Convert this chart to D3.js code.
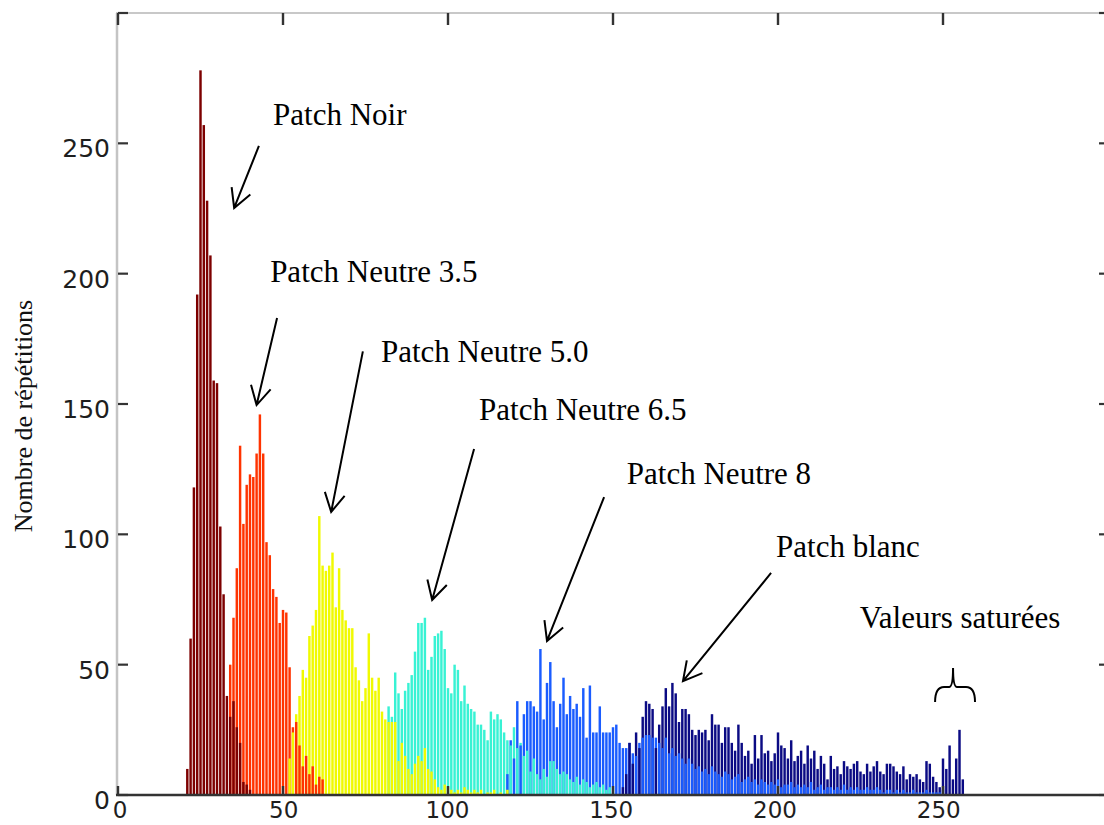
<!DOCTYPE html>
<html>
<head>
<meta charset="utf-8">
<script src="https://cdn.jsdelivr.net/npm/d3@7/dist/d3.min.js"></script>
<style>
  html, body { margin: 0; padding: 0; background: #fff; }
  svg { display: block; }
</style>
</head>
<body>
<svg id="chart" width="1104" height="825"></svg>
<script>
// ---------------- DATA ----------------
// Each series: first grey level (bin) and the counts of consecutive bins.
const seriesNames = ["Patch Noir", "Patch Neutre 3.5", "Patch Neutre 5.0", "Patch Neutre 6.5", "Patch Neutre 8", "Patch blanc"];

const noirStart = 21;
const noirCounts = [10, 60, 118, 192, 278, 257, 228, 207, 159, 158, 103, 77, 38, 30, 36, 26, 20, 5, 4, 2];

const n35Start = 34;
const n35Counts = [50, 68, 87, 134, 104, 119, 123, 122, 131, 146, 131, 97, 92, 79, 76, 66, 71, 70, 49, 26,
                   28, 19, 11, 15, 8, 11, 4, 7, 6];

const n50Start = 52;
const n50Counts = [14, 24, 31, 38, 48, 45, 61, 65, 71, 107, 88, 86, 88, 93, 72, 87, 71, 67, 64, 64,
                   49, 44, 36, 41, 62, 45, 40, 45, 32, 29, 28, 28, 28, 13, 20, 15, 10, 8, 12, 15,
                   13, 18, 10, 9, 6, 3, 2, 4, 3, 2, 1, 2, 1, 3, 2, 1, 2, 1, 2, 0,
                   1, 1, 2, 0, 1, 0, 2];

const n65Start = 82;
const n65Counts = [34, 30, 47, 39, 33, 40, 43, 46, 55, 66, 66, 68, 48, 53, 61, 62, 63, 56, 41, 39,
                   50, 48, 36, 42, 35, 33, 32, 27, 27, 25, 21, 32, 29, 31, 29, 24, 21, 19, 26, 18,
                   20, 15, 17, 9, 14, 8, 6, 10, 7, 13, 13, 10, 8, 9, 8, 6, 5, 7, 4, 6,
                   5, 3, 4, 5, 3, 4, 2, 3, 1];

const n8Start = 118;
const n8Counts = [8, 21, 14, 36, 19, 31, 36, 36, 34, 32, 56, 29, 43, 51, 36, 26, 35, 45, 31, 38,
                  33, 35, 30, 41, 22, 42, 24, 24, 34, 24, 24, 24, 26, 27, 20, 18, 18, 20, 16, 15,
                  20, 22, 23, 23, 22, 22, 20, 18, 22, 16, 18, 15, 16, 14, 12, 14, 12, 10, 11, 9,
                  10, 8, 11, 9, 8, 7, 9, 8, 6, 7, 8, 5, 6, 7, 5, 6, 4, 6, 5, 4,
                  5, 4, 6, 3, 4, 4, 5, 3, 4, 3, 4, 3, 5, 2, 3, 4, 2, 3, 3, 2,
                  3, 2, 4, 2, 3, 2, 3, 2, 2, 3, 2, 2, 3, 2, 1, 2, 2, 1, 2, 1,
                  2, 1, 1, 2, 1, 1, 1, 2, 1, 1, 1, 1, 2];

const blancStart = 153;
const blancCounts = [3, 8, 20, 12, 24, 18, 30, 36, 35, 33, 18, 27, 34, 41, 34, 43, 39, 28, 33, 33,
                     31, 25, 23, 25, 24, 25, 21, 31, 27, 27, 20, 26, 26, 20, 17, 27, 20, 15, 17, 12,
                     23, 14, 23, 16, 17, 13, 16, 24, 19, 18, 14, 21, 13, 15, 17, 12, 19, 14, 17, 10,
                     15, 12, 6, 15, 10, 11, 8, 13, 11, 10, 12, 13, 9, 8, 12, 9, 11, 13, 9, 8,
                     12, 12, 11, 9, 8, 11, 6, 8, 7, 8, 6, 5, 13, 12, 7, 5, 3, 14, 10, 19,
                     6, 14, 25, 6];

const xTicks = [0, 50, 100, 150, 200, 250, 300];
const yTicks = [0, 50, 100, 150, 200, 250, 300];
const xTickLabels = ["0", "50", "100", "150", "200", "250"];
const yTickLabels = ["0", "50", "100", "150", "200", "250"];

// annotations in data units: label, text anchor point, arrow from, arrow to
const annotations = [
  { text: "Patch Noir",       tx: 47.0,  ty: 257.0, ax1: 42.7,  ay1: 249.0, ax2: 35.2,  ay2: 225.2 },
  { text: "Patch Neutre 3.5", tx: 46.1,  ty: 196.8, ax1: 48.2,  ay1: 183.0, ax2: 42.0,  ay2: 149.6 },
  { text: "Patch Neutre 5.0", tx: 79.7,  ty: 166.1, ax1: 74.2,  ay1: 170.2, ax2: 64.6,  ay2: 108.6 },
  { text: "Patch Neutre 6.5", tx: 109.4, ty: 143.8, ax1: 107.9, ay1: 132.7, ax2: 95.2,  ay2: 74.8 },
  { text: "Patch Neutre 8",   tx: 154.2, ty: 119.3, ax1: 147.3, ay1: 114.3, ax2: 130.0, ay2: 59.1 },
  { text: "Patch blanc",      tx: 199.4, ty: 91.3,  ax1: 197.9, ay1: 85.2,  ax2: 171.2, ay2: 43.7 }
];
const saturatedLabel = { text: "Valeurs saturées", tx: 224.8, ty: 64.1 };
const saturatedRange = [247.6, 259.7];

// ---------------- CHART ----------------
const colors = ["#7d0000", "#ff3300", "#f0fa00", "#38f2d4", "#1a5cff", "#0b0b84"];
const starts = [noirStart, n35Start, n50Start, n65Start, n8Start, blancStart];
const counts = [noirCounts, n35Counts, n50Counts, n65Counts, n8Counts, blancCounts];

const svg = d3.select("#chart");
const x = d3.scaleLinear().domain([0, 300]).range([118, 1108]);
const y = d3.scaleLinear().domain([0, 300]).range([795, 13]);

// build bar records
let bars = [];
counts.forEach((arr, s) => {
  arr.forEach((v, i) => {
    if (v > 0) bars.push({ s, bin: starts[s] + i, v });
  });
});
// taller bars behind, shorter in front
bars.sort((a, b) => b.v - a.v);

const step = x(1) - x(0);
const bw = step * 0.74;

svg.append("g").selectAll("rect").data(bars).join("rect")
  .attr("x", d => x(d.bin) - bw / 2)
  .attr("y", d => y(d.v))
  .attr("width", bw)
  .attr("height", d => y(0) - y(d.v))
  .attr("fill", d => colors[d.s]);

// frame (light grey left & top)
svg.append("line").attr("x1", 117).attr("x2", 117).attr("y1", y(300)).attr("y2", y(0))
  .attr("stroke", "#c4c4c4").attr("stroke-width", 2.5);
svg.append("line").attr("x1", 116).attr("x2", 1104).attr("y1", y(300)).attr("y2", y(300))
  .attr("stroke", "#c8c8c8").attr("stroke-width", 2);

// bottom axis line
svg.append("line").attr("x1", 116).attr("x2", 1104).attr("y1", y(0)).attr("y2", y(0))
  .attr("stroke", "#333").attr("stroke-width", 2.5);

const tickColor = "#333";
// left ticks (inward)
svg.append("g").selectAll("line").data(yTicks).join("line")
  .attr("x1", 118).attr("x2", 128).attr("y1", d => y(d)).attr("y2", d => y(d))
  .attr("stroke", tickColor).attr("stroke-width", 2.2);
// right ticks
svg.append("g").selectAll("line").data(yTicks).join("line")
  .attr("x1", 1099).attr("x2", 1108).attr("y1", d => y(d)).attr("y2", d => y(d))
  .attr("stroke", tickColor).attr("stroke-width", 2.2);
// top ticks
svg.append("g").selectAll("line").data(xTicks).join("line")
  .attr("x1", d => x(d)).attr("x2", d => x(d)).attr("y1", y(300)).attr("y2", y(300) + 12)
  .attr("stroke", tickColor).attr("stroke-width", 2.4);
// bottom ticks
svg.append("g").selectAll("line").data(xTicks).join("line")
  .attr("x1", d => x(d)).attr("x2", d => x(d)).attr("y1", y(0)).attr("y2", y(0) - 9)
  .attr("stroke", tickColor).attr("stroke-width", 2.4);

// tick labels
const tickFont = "'DejaVu Sans', Verdana, sans-serif";
svg.append("g").selectAll("text").data(yTickLabels).join("text")
  .attr("x", 110).attr("y", d => y(+d) + 14)
  .attr("text-anchor", "end")
  .attr("font-family", tickFont).attr("font-size", 25).attr("fill", "#1e1e1e")
  .text(d => d);
svg.append("g").selectAll("text").data(xTickLabels).join("text")
  .attr("x", d => x(+d) - (+d) * 0.025 + 2).attr("y", 818)
  .attr("text-anchor", "middle")
  .attr("font-family", tickFont).attr("font-size", 23).attr("fill", "#1e1e1e")
  .text(d => d);

// y axis title
svg.append("text")
  .attr("transform", "translate(32,416) rotate(-90)")
  .attr("text-anchor", "middle")
  .attr("font-family", "'Liberation Serif', 'Times New Roman', serif")
  .attr("font-size", 26).attr("fill", "#111")
  .text("Nombre de répétitions");

// annotations
const serif = "'Liberation Serif', 'Times New Roman', serif";
const ann = svg.append("g");
function arrow(x1, y1, x2, y2) {
  const ang = Math.atan2(y1 - y2, x1 - x2);
  const L = 21, a = 0.5;
  const p = `M${x1},${y1}L${x2},${y2}` +
    `M${x2 + L * Math.cos(ang + a)},${y2 + L * Math.sin(ang + a)}L${x2},${y2}` +
    `L${x2 + L * Math.cos(ang - a)},${y2 + L * Math.sin(ang - a)}`;
  ann.append("path").attr("d", p).attr("fill", "none")
    .attr("stroke", "#000").attr("stroke-width", 2);
}
annotations.forEach(a => {
  ann.append("text").attr("x", x(a.tx)).attr("y", y(a.ty))
    .attr("font-family", serif).attr("font-size", 31).attr("fill", "#000")
    .text(a.text);
  arrow(x(a.ax1), y(a.ay1), x(a.ax2), y(a.ay2));
});
ann.append("text").attr("x", x(saturatedLabel.tx)).attr("y", y(saturatedLabel.ty))
  .attr("font-family", serif).attr("font-size", 31).attr("fill", "#000")
  .text(saturatedLabel.text);

// curly brace above saturated values
{
  const xa = x(saturatedRange[0]), xb = x(saturatedRange[1]);
  const xm = (xa + xb) / 2 - 2;
  const yb = 702, ys = 687, yt = 668;
  const p = `M${xa},${yb} Q${xa},${ys} ${xa + 9},${ys} L${xm - 4},${ys} Q${xm},${ys} ${xm},${yt}` +
            ` Q${xm},${ys} ${xm + 4},${ys} L${xb - 9},${ys} Q${xb},${ys} ${xb},${yb}`;
  ann.append("path").attr("d", p).attr("fill", "none").attr("stroke", "#000").attr("stroke-width", 2);
}
</script>
</body>
</html>
